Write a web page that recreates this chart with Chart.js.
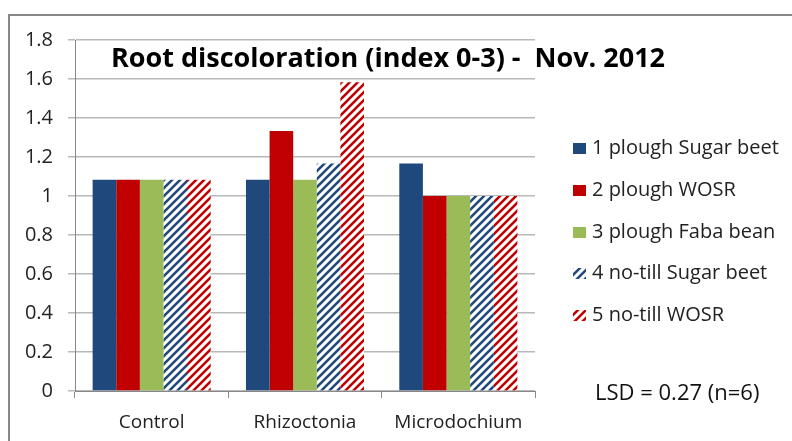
<!DOCTYPE html>
<html>
<head>
<meta charset="utf-8">
<script src="https://cdn.jsdelivr.net/npm/chart.js@4"></script>
<style>
  html, body { margin: 0; padding: 0; background: #fff; }
  #wrap { width: 792px; height: 441px; position: relative; }
</style>
</head>
<body>
<div id="wrap"><canvas id="chart" width="792" height="441"></canvas></div>
<script>
const categories = ["Control", "Rhizoctonia", "Microdochium"];
const seriesNames = [
  "1 plough Sugar beet",
  "2 plough WOSR",
  "3 plough Faba bean",
  "4 no-till Sugar beet",
  "5 no-till WOSR",
];
const ploughSugarBeet = [1.083, 1.083, 1.167];
const ploughWosr = [1.083, 1.333, 1.0];
const ploughFabaBean = [1.083, 1.083, 1.0];
const noTillSugarBeet = [1.083, 1.167, 1.0];
const noTillWosr = [1.083, 1.583, 1.0];
const chartTitle = "Root discoloration (index 0-3) -  Nov. 2012";
const noteText = "LSD = 0.27 (n=6)";

const BLUE = "#1F497D";
const RED = "#C00000";
const GREEN = "#9BBB59";
const FONT = "'Open Sans', 'Noto Sans', sans-serif";

function stripes(color) {
  const c = document.createElement("canvas");
  c.width = 8;
  c.height = 8;
  const x = c.getContext("2d");
  x.fillStyle = "#fff";
  x.fillRect(0, 0, 8, 8);
  x.strokeStyle = color;
  x.lineWidth = 2.6;
  x.beginPath();
  x.moveTo(-2, 10); x.lineTo(10, -2);
  x.moveTo(-2, 2); x.lineTo(2, -2);
  x.moveTo(6, 10); x.lineTo(10, 6);
  x.stroke();
  return x.createPattern(c, "repeat");
}

const ctx = document.getElementById("chart").getContext("2d");

const extras = {
  id: "extras",
  afterDraw(chart) {
    const c = chart.ctx;
    c.save();
    // outer frame
    c.strokeStyle = "#888";
    c.lineWidth = 2;
    c.strokeRect(9, 15, 800, 500);

    // title
    c.fillStyle = "#000";
    c.font = "bold 27px " + FONT;
    c.textAlign = "center";
    c.textBaseline = "middle";
    c.fillText(chartTitle, 388, 59);

    // legend
    c.font = "20px " + FONT;
    c.textAlign = "left";
    const rows = [148, 190, 232, 273, 315];
    chart.data.datasets.forEach((ds, i) => {
      const y = rows[i];
      c.fillStyle = ds.backgroundColor;
      c.fillRect(573, y - 5, 13, 11);
      c.fillStyle = "#222";
      c.fillText(ds.label, 592, y);
    });

    // note
    c.font = "22px " + FONT;
    c.fillStyle = "#111";
    c.fillText(noteText, 595, 394);
    c.restore();
  },
};

const dsBase = { borderWidth: 0, barPercentage: 1, categoryPercentage: 0.77 };

new Chart(ctx, {
  type: "bar",
  data: {
    labels: categories,
    datasets: [
      { ...dsBase, label: seriesNames[0], data: ploughSugarBeet, backgroundColor: BLUE },
      { ...dsBase, label: seriesNames[1], data: ploughWosr, backgroundColor: RED },
      { ...dsBase, label: seriesNames[2], data: ploughFabaBean, backgroundColor: GREEN },
      { ...dsBase, label: seriesNames[3], data: noTillSugarBeet, backgroundColor: stripes(BLUE) },
      { ...dsBase, label: seriesNames[4], data: noTillWosr, backgroundColor: stripes(RED) },
    ],
  },
  options: {
    responsive: false,
    animation: false,
    layout: { padding: { left: 0, right: 257, top: 40, bottom: 0 } },
    plugins: { legend: { display: false }, tooltip: { enabled: false }, title: { display: false } },
    scales: {
      x: {
        grid: { drawOnChartArea: false, drawTicks: true, tickLength: 7, offset: true, color: "#888" },
        border: { color: "#888", width: 1 },
        ticks: { color: "#222", font: { family: FONT, size: 19 }, padding: 13 },
        afterFit(s) { s.height = 50; },
      },
      y: {
        min: 0,
        max: 1.8,
        ticks: {
          stepSize: 0.2,
          color: "#222",
          font: { family: FONT, size: 20 },
          padding: 15,
          callback: (v) => String(Math.round(v * 10) / 10),
        },
        grid: { color: "#B8B8B8", lineWidth: 1.5, tickLength: 7 },
        border: { color: "#888", width: 1 },
        afterFit(s) { s.width = 75; },
      },
    },
  },
  plugins: [extras],
});
</script>
</body>
</html>
